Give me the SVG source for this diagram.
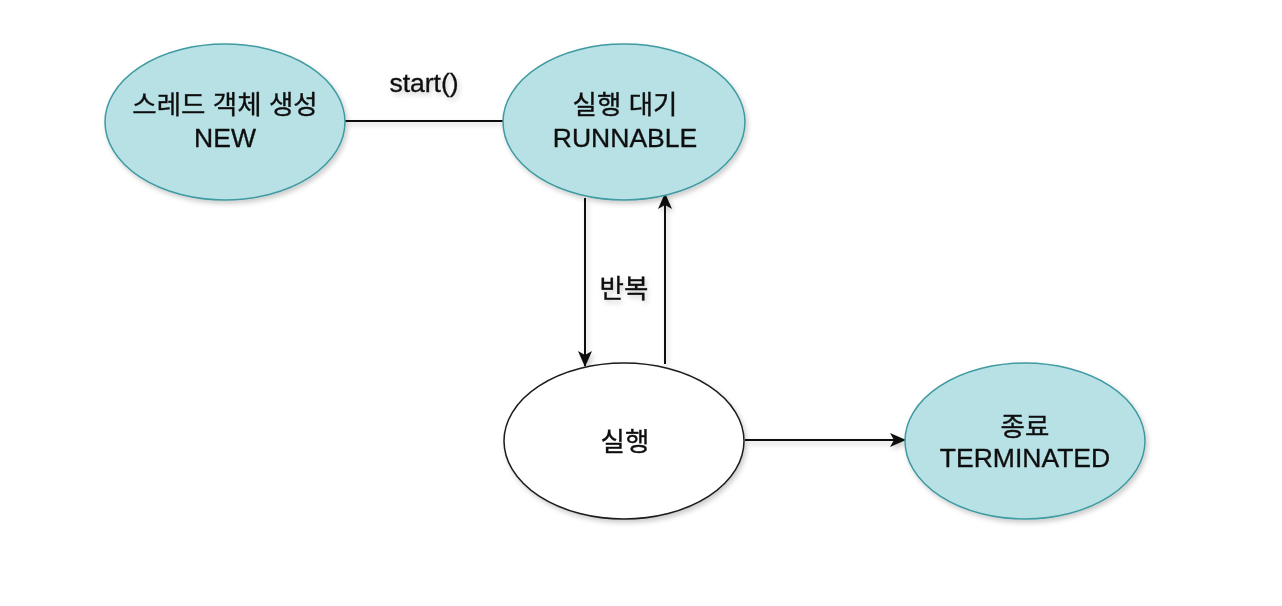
<svg xmlns="http://www.w3.org/2000/svg" width="1282" height="606" viewBox="0 0 1282 606">
  <style>
    .teal { fill: #b7e1e5; stroke: #3f9aa1; stroke-width: 1.5; }
    .white { fill: #ffffff; stroke: #1a1a1a; stroke-width: 1.5; }
    .lbl { font-family: "Liberation Sans", "Noto Sans CJK KR", Arial, sans-serif; font-size: 26.5px; fill: #111111; stroke: #111111; stroke-width: 0.35; text-anchor: middle; }
    .edge { fill: none; stroke: #111111; stroke-width: 2; }
  </style>
  <defs>
    <filter id="sh" x="-20%" y="-20%" width="140%" height="150%">
      <feDropShadow dx="2" dy="3" stdDeviation="2.5" flood-color="#000000" flood-opacity="0.2"/>
    </filter>
    <marker id="arr" viewBox="0 0 16 14" refX="15" refY="7" markerWidth="16" markerHeight="14" markerUnits="userSpaceOnUse" orient="auto">
      <path d="M0,0 L16,7 L0,14 L4,7 Z" fill="#111111"/>
    </marker>
  </defs>
  <rect width="1282" height="606" fill="#ffffff"/>

  <g id="connectors" filter="url(#sh)">
    <line class="edge" x1="345" y1="121" x2="503" y2="121"/>
    <text class="lbl" x="424" y="92">start()</text>
    <line class="edge" x1="585" y1="198" x2="585" y2="366" marker-end="url(#arr)"/>
    <line class="edge" x1="665" y1="364" x2="665" y2="194" marker-end="url(#arr)"/>
    <text class="lbl" x="624" y="298">반복</text>
    <line class="edge" x1="745" y1="440" x2="905" y2="440" marker-end="url(#arr)"/>
  </g>

  <g id="node-new" filter="url(#sh)">
    <ellipse class="teal" cx="225" cy="122" rx="120" ry="78"/>
    <text class="lbl" x="225" y="114">스레드 객체 생성</text>
    <text class="lbl" x="225" y="147">NEW</text>
  </g>

  <g id="node-runnable" filter="url(#sh)">
    <ellipse class="teal" cx="624" cy="122" rx="121" ry="78"/>
    <text class="lbl" x="625" y="114">실행 대기</text>
    <text class="lbl" x="625" y="147">RUNNABLE</text>
  </g>

  <g id="node-running" filter="url(#sh)">
    <ellipse class="white" cx="624" cy="441" rx="120" ry="78"/>
    <text class="lbl" x="625" y="451">실행</text>
  </g>

  <g id="node-terminated" filter="url(#sh)">
    <ellipse class="teal" cx="1025" cy="441" rx="120" ry="78"/>
    <text class="lbl" x="1025" y="436">종료</text>
    <text class="lbl" x="1025" y="467">TERMINATED</text>
  </g>
</svg>
